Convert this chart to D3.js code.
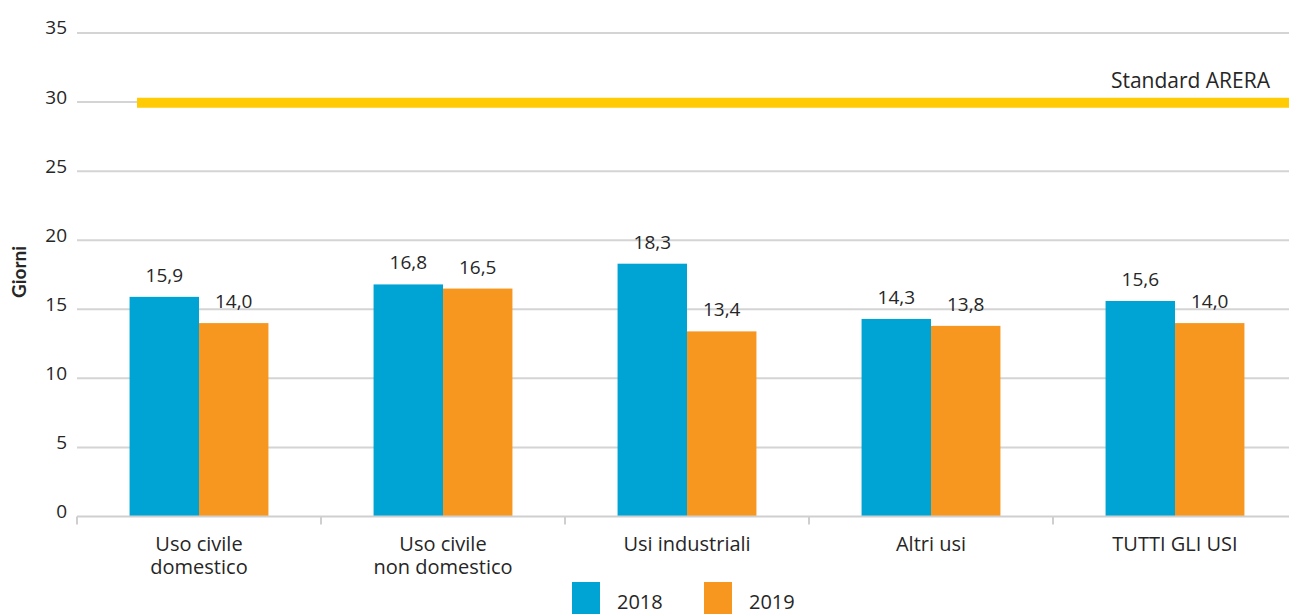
<!DOCTYPE html>
<html>
<head>
<meta charset="utf-8">
<script src="https://cdn.jsdelivr.net/npm/d3@7"></script>
<style>
  html, body { margin: 0; padding: 0; background: #fff; overflow: hidden; }
  svg { display: block; font-family: "Open Sans", sans-serif; }
</style>
</head>
<body>
<svg id="chart" width="1289" height="614"></svg>
<script>
// Categories (two-line labels split by "\n")
const categories = ["Uso civile\ndomestico", "Uso civile\nnon domestico", "Usi industriali", "Altri usi", "TUTTI GLI USI"];
const seriesNames = ["2018", "2019"];
const values2018 = [15.9, 16.8, 18.3, 14.3, 15.6];
const values2019 = [14.0, 16.5, 13.4, 13.8, 14.0];
const standardValue = 30;
const standardLabel = "Standard ARERA";
const yTicks = [0, 5, 10, 15, 20, 25, 30, 35];
const yTitle = "Giorni";

const colors = { "2018": "#00A4D4", "2019": "#F7971F" };
const textColor = "#262626";
const fmt = v => d3.format(".1f")(v).replace(".", ",");

const svg = d3.select("#chart");
const W = 1289;
const left = 77, right = 1297;

const x0 = d3.scaleBand().domain(categories).range([left, right]).padding(0);
const x1 = d3.scaleBand().domain(seriesNames).range([0, x0.bandwidth()]).paddingOuter(0.757).paddingInner(0);
const y = d3.scaleLinear().domain([0, 35]).range([516.5, 33]);

// Gridlines
svg.append("g")
  .selectAll("line")
  .data(yTicks.filter(d => d > 0))
  .join("line")
  .attr("x1", left).attr("x2", W)
  .attr("y1", d => y(d)).attr("y2", d => y(d))
  .attr("stroke", "#d4d4d4").attr("stroke-width", 2);

// Y axis labels
const yAxis = d3.axisLeft(y).tickValues(yTicks).tickSize(0).tickPadding(10);
const gy = svg.append("g").attr("transform", `translate(${left},0)`).call(yAxis);
gy.select(".domain").remove();
gy.selectAll("text")
  .attr("font-size", 19).attr("fill", textColor)
  .attr("font-family", "'Open Sans', sans-serif")
  .attr("dy", "0.05em");

// Y title
svg.append("text")
  .attr("transform", `translate(26,${y(17.7)}) rotate(-90)`)
  .attr("text-anchor", "middle")
  .attr("font-family", "Lato, sans-serif")
  .attr("font-size", 19).attr("font-weight", "bold").attr("fill", textColor)
  .text(yTitle);

// Bars
const data = categories.map((c, i) => ({ cat: c, vals: [ { s: "2018", v: values2018[i] }, { s: "2019", v: values2019[i] } ] }));
const groups = svg.append("g").selectAll("g").data(data).join("g")
  .attr("transform", d => `translate(${x0(d.cat)},0)`);

groups.selectAll("rect").data(d => d.vals).join("rect")
  .attr("x", d => x1(d.s))
  .attr("width", x1.bandwidth())
  .attr("y", d => y(d.v))
  .attr("height", d => y(0) - y(d.v))
  .attr("fill", d => colors[d.s]);

groups.selectAll("text.val").data(d => d.vals).join("text")
  .attr("class", "val")
  .attr("x", d => x1(d.s) + x1.bandwidth() / 2)
  .attr("y", d => y(d.v) - 15)
  .attr("text-anchor", "middle")
  .attr("font-size", 19).attr("fill", textColor)
  .text(d => fmt(d.v));

// X axis
const gx = svg.append("g").attr("transform", `translate(0,${y(0)})`);
gx.append("line").attr("x1", left).attr("x2", W).attr("y1", 0).attr("y2", 0)
  .attr("stroke", "#cfcfcf").attr("stroke-width", 2);
gx.selectAll("line.tick").data(categories).join("line")
  .attr("class", "tick")
  .attr("x1", d => x0(d)).attr("x2", d => x0(d))
  .attr("y1", 0).attr("y2", 8)
  .attr("stroke", "#cfcfcf").attr("stroke-width", 2);

// Category labels, one text per line
gx.selectAll("g.cat").data(categories).join("g")
  .attr("class", "cat")
  .attr("transform", d => `translate(${x0(d) + x0.bandwidth() / 2},34)`)
  .selectAll("text")
  .data(d => d.split("\n"))
  .join("text")
  .attr("text-anchor", "middle")
  .attr("font-size", 20).attr("fill", textColor)
  .attr("y", (d, i) => i * 23)
  .text(d => d);

// Standard line
svg.append("line")
  .attr("x1", 137).attr("x2", W)
  .attr("y1", y(standardValue) + 0.8).attr("y2", y(standardValue) + 0.8)
  .attr("stroke", "#FFCB05").attr("stroke-width", 10);
svg.append("text")
  .attr("x", 1270).attr("y", 88)
  .attr("text-anchor", "end")
  .attr("font-size", 21).attr("fill", textColor)
  .text(standardLabel);

// Legend
const legend = svg.append("g").selectAll("g").data(seriesNames).join("g")
  .attr("transform", (d, i) => `translate(${572 + i * 132},582)`);
legend.append("rect").attr("width", 28).attr("height", 34).attr("fill", d => colors[d]);
legend.append("text").attr("x", 45).attr("y", 27).attr("font-size", 20).attr("fill", textColor).text(d => d);
</script>
</body>
</html>
